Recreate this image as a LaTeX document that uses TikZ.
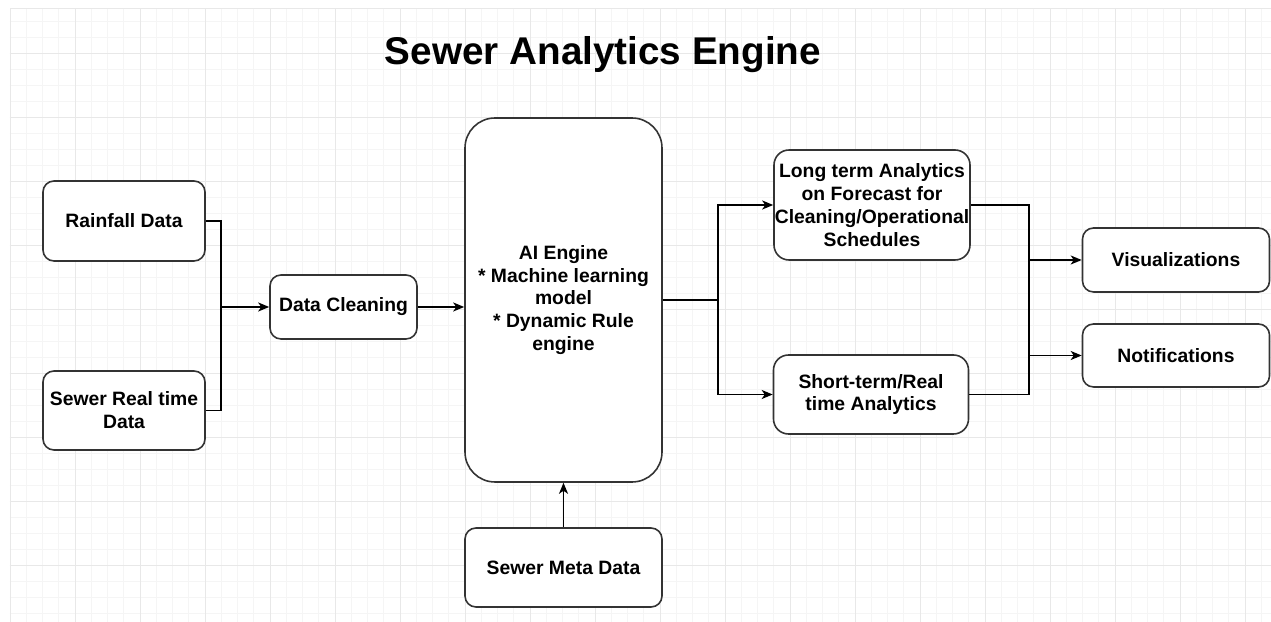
\documentclass[tikz,border=0pt]{standalone}
\usepackage{fontspec}
\setmainfont{Liberation Sans}
\usetikzlibrary{arrows.meta}

\begin{document}
\begin{tikzpicture}[
        box/.style={draw=black!80, line width=0.9pt, fill=white, rounded corners=0.22cm,
                    align=center, inner sep=2pt, font=\fontsize{11}{13}\selectfont\bfseries},
        flow/.style={line width=0.9pt, -{Stealth[length=2.2mm, width=1.8mm, inset=0.6mm]}},
        wire/.style={line width=0.9pt},
        gridminor/.style={black!4, line width=0.4pt},
        gridmajor/.style={black!9, line width=0.5pt}
    ]
            \useasboundingbox (0,0) rectangle (25.42,12.44);
            \fill[white] (0,0) rectangle (25.42,12.44);

            % Background grid:
            \foreach \i in {0,...,77}
                \draw[gridminor] ({0.2+0.325*\i},0) -- ({0.2+0.325*\i},12.28);
            \foreach \j in {-2,...,35}
                \draw[gridminor] (0.2,{11.38-0.32*\j}) -- (25.42,{11.38-0.32*\j});
            \foreach \i in {0,...,19}
                \draw[gridmajor] ({0.2+1.3*\i},0) -- ({0.2+1.3*\i},12.28);
            \foreach \j in {0,...,8}
                \draw[gridmajor] (0.2,{11.38-1.28*\j}) -- (25.42,{11.38-1.28*\j});
            \draw[gridmajor] (0.2,0) -- (0.2,12.28) -- (25.42,12.28);

            % Title:
            \node[font=\fontsize{22}{26}\selectfont\bfseries] (title) at (12.06,11.34) {Sewer Analytics Engine};

            % Inputs and cleaning:
            \node[box, minimum width=3.24cm, minimum height=1.6cm] (rain) at (2.48,8.02) {Rainfall Data};
            \node[box, minimum width=3.24cm, minimum height=1.58cm] (real) at (2.48,4.23) {Sewer Real time\\Data};
            \node[box, minimum width=2.94cm, minimum height=1.28cm] (clean) at (6.87,6.30) {Data Cleaning};

            % Engine:
            \node[box, rounded corners=0.6cm, minimum width=3.94cm, minimum height=7.28cm] (ai) at (11.27,6.44)
                {AI Engine\\* Machine learning\\model\\* Dynamic Rule\\engine};
            \node[box, minimum width=3.94cm, minimum height=1.58cm] (meta) at (11.27,1.09) {Sewer Meta Data};

            % Analytics and outputs:
            \node[box, rounded corners=0.3cm, inner sep=0pt, minimum width=3.92cm, minimum height=2.2cm] (long) at (17.44,8.34)
                {Long term Analytics\\on Forecast for\\Cleaning/Operational\\Schedules};
            \node[box, rounded corners=0.3cm, minimum width=3.9cm, minimum height=1.58cm] (short) at (17.42,4.55)
                {Short-term/Real\\time Analytics};
            \node[box, minimum width=3.74cm, minimum height=1.28cm] (vis) at (23.52,7.24) {Visualizations};
            \node[box, minimum width=3.74cm, minimum height=1.26cm] (notif) at (23.52,5.33) {Notifications};

            % Connectors:
            \coordinate (join) at (4.42,6.30);
            \draw[wire] (rain.east) -| (join);
            \draw[wire] (real.east) -| (join);
            \draw[flow] (join) -- (clean.west);
            \draw[flow] (clean.east) -- (clean.east -| ai.west);
            \draw[flow] (meta) -- (ai);

            \coordinate (split) at (14.36,6.44);
            \draw[wire] (ai.east) -- (split);
            \draw[flow] (split) |- (long.west);
            \draw[flow] (split) |- (short.west);

            \coordinate (merge) at (20.58,6.30);
            \draw[wire] (long.east) -| (merge) |- (short.east);
            \draw[flow] (merge |- vis.west) -- (vis.west);
            \draw[flow] (merge |- notif.west) -- (notif.west);
        \end{tikzpicture}
\end{document}
